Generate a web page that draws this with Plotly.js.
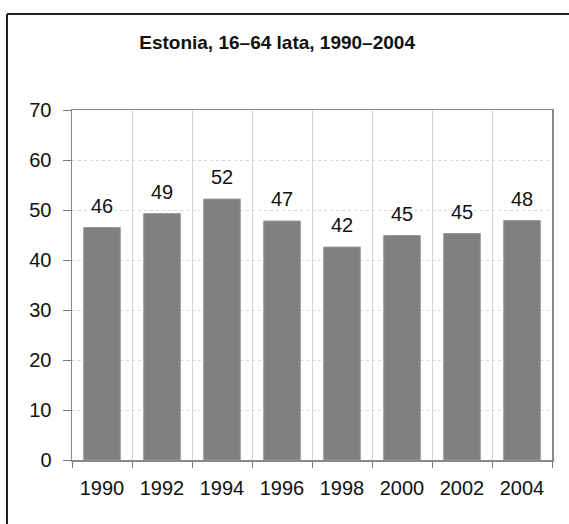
<!DOCTYPE html>
<html>
<head>
<meta charset="utf-8">
<script src="https://cdn.plot.ly/plotly-3.0.1.min.js"></script>
<style>
html,body{margin:0;padding:0;background:#fff;overflow:hidden;}
#chart{width:569px;height:524px;}
</style>
</head>
<body>
<div id="chart"></div>
<script>
const years = ["1990","1992","1994","1996","1998","2000","2002","2004"];
const values = [46.5, 49.3, 52.2, 47.8, 42.6, 44.9, 45.3, 47.9];
const labels = ["46","49","52","47","42","45","45","48"];
const yTicks = [0,10,20,30,40,50,60,70];
const chartTitle = "Estonia, 16–64 lata, 1990–2004";

const font = "Liberation Sans, Arial, sans-serif";

const trace = {
  type: "bar",
  x: years,
  y: values,
  marker: {color: "#808080", line: {color: "#9a9a9a", width: 1}},
  hoverinfo: "none"
};

// category index positions on the category axis
const annotations = years.map((yr, i) => ({
  x: i, y: values[i], xref: "x", yref: "y",
  text: labels[i], showarrow: false,
  yanchor: "middle", yshift: 22,
  font: {family: font, size: 20, color: "#111"}
}));

const layout = {
  width: 569,
  height: 524,
  margin: {l: 72, r: 17, t: 110, b: 64},
  paper_bgcolor: "#fff",
  plot_bgcolor: "#fff",
  bargap: 0.39,
  showlegend: false,
  title: {
    text: "<b>" + chartTitle + "</b>",
    font: {family: font, size: 19, color: "#111"},
    xref: "container", x: 0.487, xanchor: "center",
    yref: "container", y: 1 - 42/524, yanchor: "middle"
  },
  xaxis: {
    type: "category",
    categoryorder: "array",
    categoryarray: years,
    range: [-0.5, years.length - 0.5],
    tickson: "boundaries",
    ticks: "outside",
    ticklen: 6,
    tickcolor: "#777",
    tickangle: 0,
    showgrid: true,
    gridcolor: "#d4d4d4",
    gridwidth: 1,
    showline: true,
    linecolor: "#888",
    linewidth: 1.5,
    mirror: true,
    tickfont: {family: font, size: 20, color: "#111"},
    ticklabelstandoff: 9,
    fixedrange: true
  },
  yaxis: {
    range: [0, 70],
    tickvals: yTicks,
    ticks: "outside",
    ticklen: 8,
    tickcolor: "#777",
    showgrid: true,
    gridcolor: "#d6d6d6",
    griddash: "dot",
    gridwidth: 1,
    showline: true,
    linecolor: "#888",
    linewidth: 1.5,
    mirror: true,
    zeroline: false,
    tickfont: {family: font, size: 20, color: "#111"},
    ticklabelstandoff: 7,
    fixedrange: true
  },
  annotations: annotations,
  shapes: [
    {type: "line", xref: "paper", yref: "paper", x0: (7-72)/480, x1: 2, y0: (460-14)/350, y1: (460-14)/350, line: {color: "#222", width: 2}},
    {type: "line", xref: "paper", yref: "paper", x0: (7-72)/480, x1: (7-72)/480, y0: (460-14)/350, y1: -1, line: {color: "#222", width: 2}}
  ]
};

Plotly.newPlot("chart", [trace], layout, {displayModeBar: false, staticPlot: true});
</script>
</body>
</html>
